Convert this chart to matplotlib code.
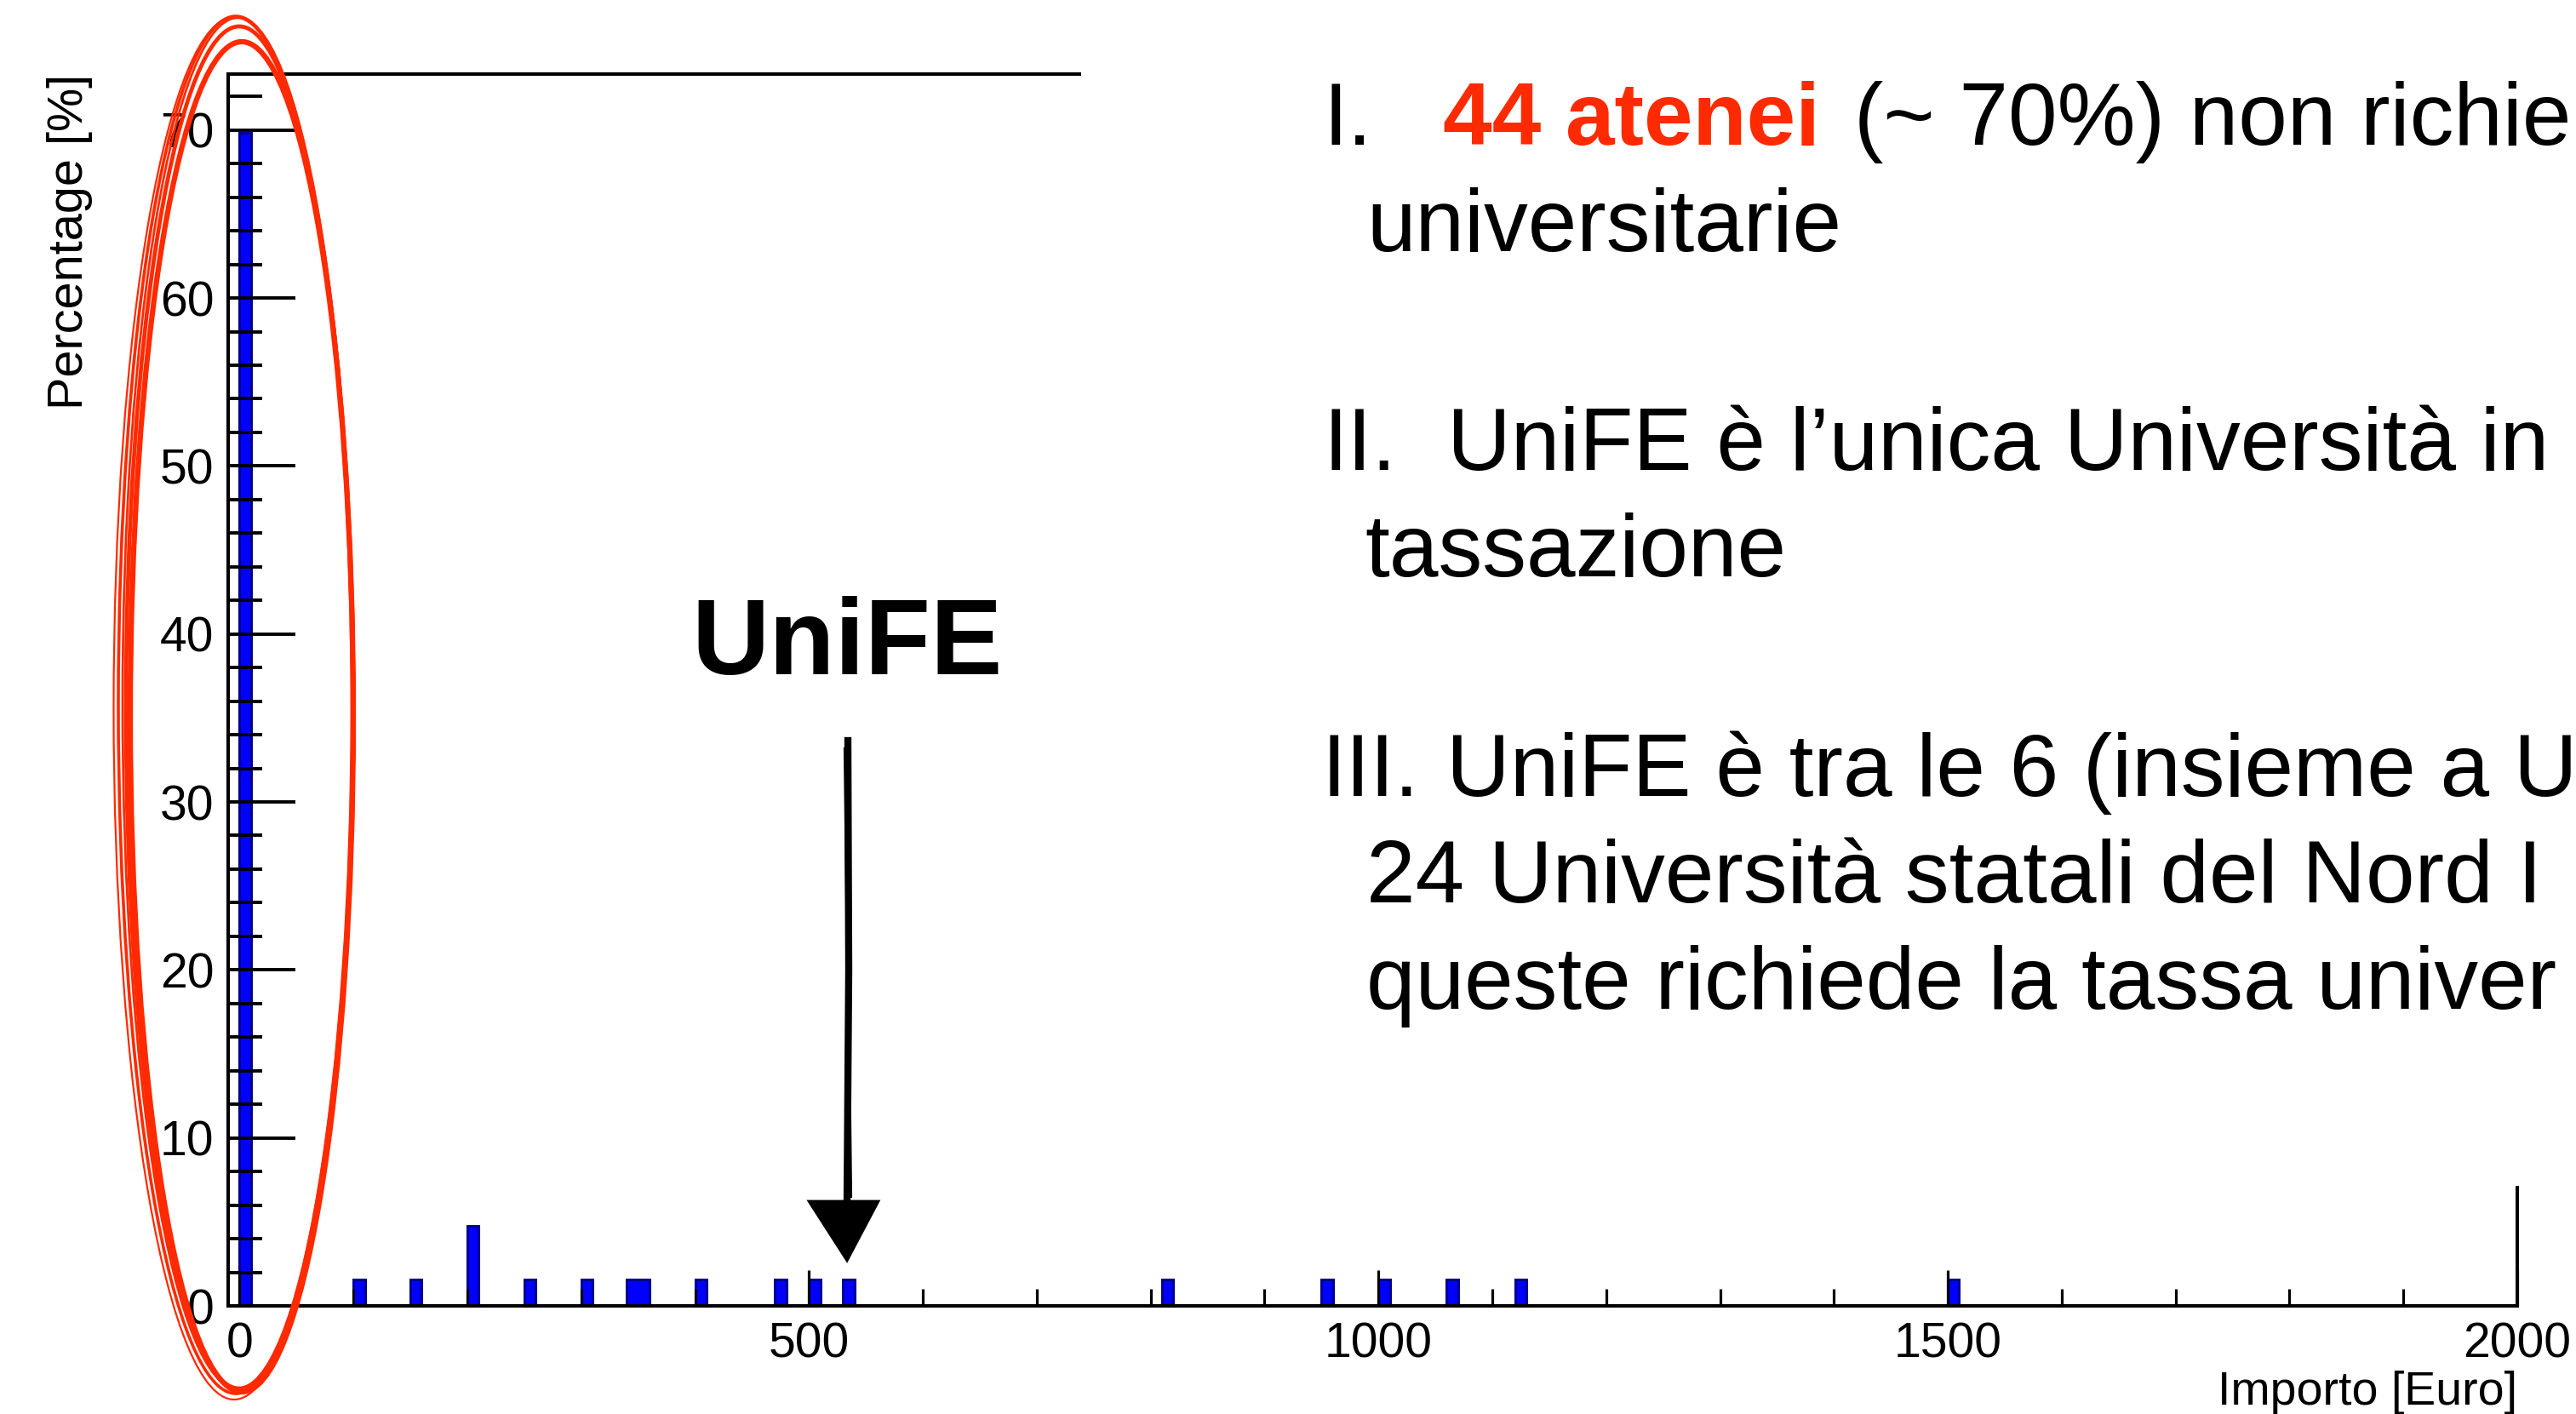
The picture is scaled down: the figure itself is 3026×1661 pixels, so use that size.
import numpy as np
import matplotlib.pyplot as plt
from matplotlib.patches import Rectangle, Ellipse, Polygon
from matplotlib.lines import Line2D
from matplotlib.ticker import MultipleLocator
import matplotlib.transforms as mtransforms

plt.rcParams['font.family'] = ['Liberation Sans', 'DejaVu Sans']

# histogram content: left edge of each filled 10-euro bin and its percentage
bin_left = [0, 100, 150, 200, 250, 300, 340, 350, 400, 470, 500, 530,
            810, 950, 1000, 1060, 1120, 1500]
bin_pct = [69.84, 1.59, 1.59, 4.76, 1.59, 1.59, 1.59, 1.59, 1.59, 1.59, 1.59, 1.59,
           1.59, 1.59, 1.59, 1.59, 1.59, 1.59]
bin_width = 10
x_range = (-10, 2000)

x_major = [0, 500, 1000, 1500, 2000]
y_major = [0, 10, 20, 30, 40, 50, 60, 70]

W, H = 3026, 1661
fig = plt.figure(figsize=(W / 100, H / 100), dpi=100)
# image-pixel transform (y pointing down) for slide overlay elements
pix = mtransforms.Affine2D().scale(1 / W, -1 / H).translate(0, 1) + fig.transFigure

L, R, T, B = 268, 2957, 87, 1534
ax = fig.add_axes([L / W, 1 - B / H, (R - L) / W, (B - T) / H])

edges = np.arange(x_range[0], x_range[1] + bin_width, bin_width)
values = np.zeros(len(edges) - 1)
for left, p in zip(bin_left, bin_pct):
    values[int(round((left - x_range[0]) / bin_width))] = p

ax.stairs(values, edges, fill=True, color='#0000ff', zorder=1)
ax.stairs(values, edges, color='#000090', lw=2.2, zorder=1.1)

ax.set_xlim(*x_range)
ax.set_ylim(0, 73.33)
ax.set_xticks(x_major)
ax.set_yticks(y_major)
ax.xaxis.set_minor_locator(MultipleLocator(100))
ax.yaxis.set_minor_locator(MultipleLocator(2))
ax.tick_params(axis='x', which='major', direction='in', length=30, width=2.3,
               labelsize=41, pad=13)
ax.tick_params(axis='x', which='minor', direction='in', length=14.5, width=2.3)
ax.tick_params(axis='y', which='major', direction='in', length=57, width=2.8,
               labelsize=41, pad=12)
ax.tick_params(axis='y', which='minor', direction='in', length=29, width=2.8)
for s in ax.spines.values():
    s.set_linewidth(2.9)

fig.text(82, 87, 'Percentage [%]', transform=pix, rotation=90, ha='center',
         va='top', fontsize=41.5)
fig.text(R, 1650, 'Importo [Euro]', transform=pix, ha='right', va='baseline',
         fontsize=40)

# white text box of the slide hides part of the frame
fig.add_artist(Rectangle((1270, 0), W - 1270, 1393, transform=pix,
                         facecolor='white', edgecolor='none', zorder=5))

# hand-drawn red ellipse around the first bin
red = '#ff2a00'
for cx, cy, w, h, lw in [(277, 828, 276, 1618, 2.6), (279, 826, 270, 1610, 2.0),
                         (275, 832, 283, 1624, 1.6), (281, 831, 266, 1600, 3.4),
                         (284, 842, 262, 1586, 4.5)]:
    fig.add_artist(Ellipse((cx, cy), w, h, transform=pix, fill=False,
                           edgecolor=red, lw=lw, zorder=6))

# UniFE label and hand-drawn arrow
fig.text(995, 792, 'UniFE', transform=pix, ha='center', va='baseline',
         fontsize=91, fontweight='bold', zorder=6)
fig.add_artist(Line2D([996, 997, 995], [870, 1140, 1412], transform=pix,
                      color='black', lw=6, zorder=6))
fig.add_artist(Line2D([993, 999], [880, 1405], transform=pix,
                      color='black', lw=3, zorder=6))
fig.add_artist(Polygon([(950, 1411), (1032, 1411), (995, 1481)], closed=True,
                       transform=pix, facecolor='black', edgecolor='black',
                       lw=2, zorder=6))

# slide bullet text
fs = 74.5
txt = dict(transform=pix, ha='left', va='baseline', fontsize=fs, zorder=7)
fig.text(1555, 170, 'I.', **txt)
fig.text(1695, 170, '44 atenei', color=red, fontweight='bold', **txt)
fig.text(2178, 170, '(~ 70%) non richie', **txt)
fig.text(1605, 295, 'universitarie', **txt)
fig.text(1555, 552, 'II.', **txt)
fig.text(1700, 552, 'UniFE è l’unica Università in', **txt)
fig.text(1603, 677, 'tassazione', **txt)
fig.text(1553, 935, 'III.', **txt)
fig.text(1699, 935, 'UniFE è tra le 6 (insieme a U', **txt)
fig.text(1605, 1060, '24 Università statali del Nord I', **txt)
fig.text(1605, 1185, 'queste richiede la tassa univer', **txt)

fig.savefig('out.png', dpi=100)
